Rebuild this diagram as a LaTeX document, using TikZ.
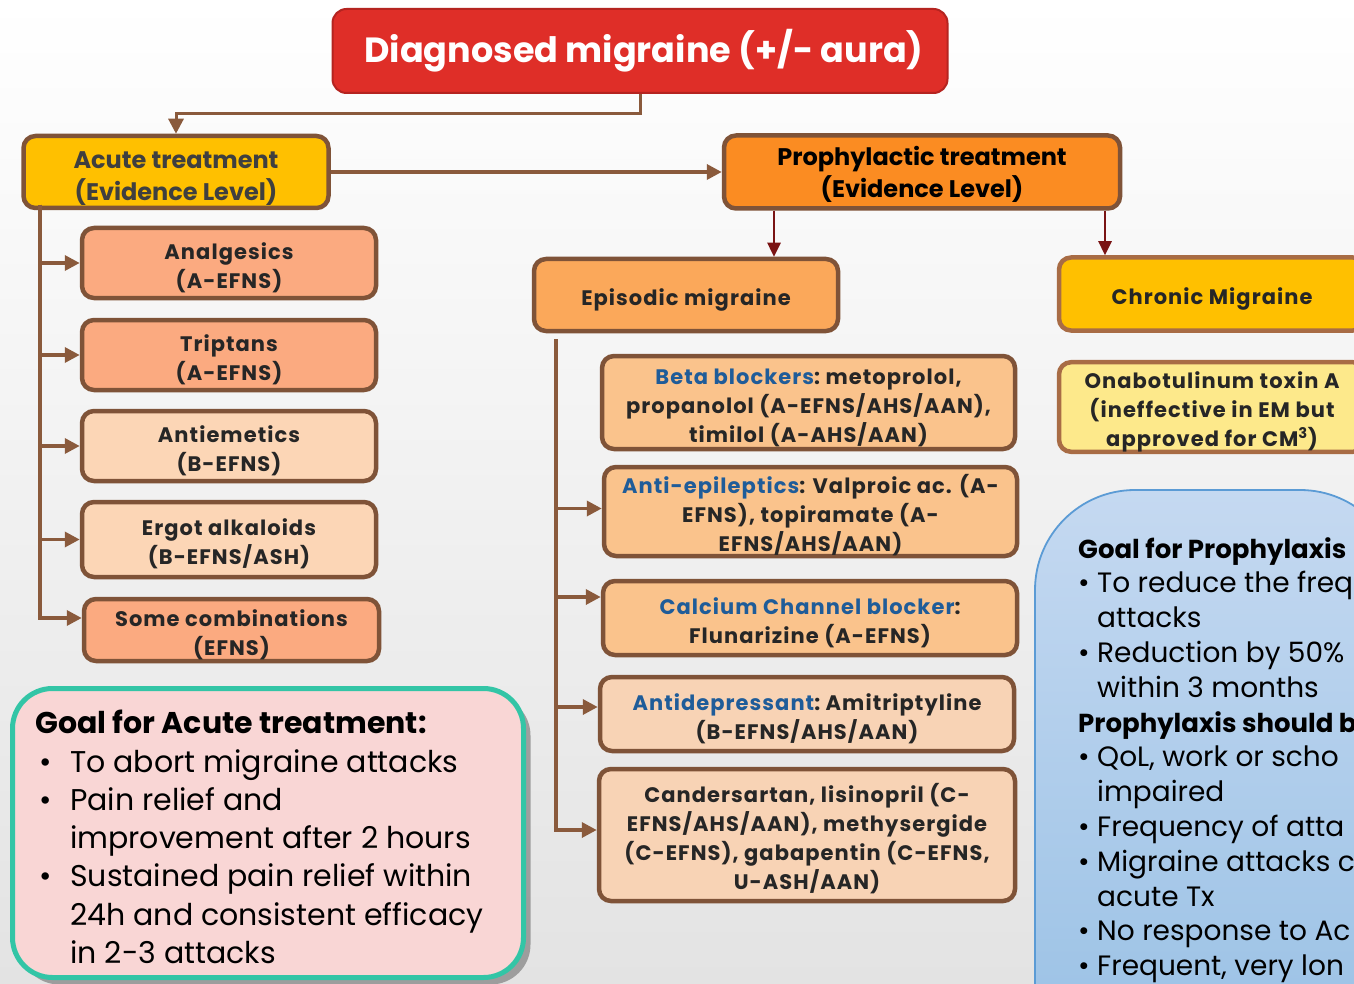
\documentclass[tikz,border=0pt]{standalone}
\usepackage{fontspec}
\setmainfont{Poppins}
\newfontfamily\boxfont[LetterSpace=5]{Poppins}
\usetikzlibrary{arrows.meta,shadows}
\newcommand\liftup[1][26pt]{\rule{0pt}{#1}}
\definecolor{brownB}{HTML}{7F5338}
\definecolor{brownL}{HTML}{A86C45}
\definecolor{brc}{HTML}{8A5A3C}
\definecolor{titleF}{HTML}{DF2E28}
\definecolor{titleB}{HTML}{B52420}
\definecolor{goldF}{HTML}{FFC000}
\definecolor{orangeP}{HTML}{FB8C22}
\definecolor{epiF}{HTML}{FBA85A}
\definecolor{salmonF}{HTML}{FBAA80}
\definecolor{peachF}{HTML}{FCD6B6}
\definecolor{lightorF}{HTML}{FAC38C}
\definecolor{antidepF}{HTML}{F8D3B5}
\definecolor{lightyelF}{HTML}{FDE98B}
\definecolor{darkredA}{HTML}{7A1414}
\definecolor{blueT}{HTML}{1F5C99}
\definecolor{pinkF}{HTML}{F9D6D5}
\definecolor{tealB}{HTML}{33C5A6}
\definecolor{blueTop}{HTML}{C5D9F1}
\definecolor{blueBot}{HTML}{9DC3E6}
\definecolor{blueLine}{HTML}{5B9BD5}
\definecolor{txtD}{HTML}{262626}
\definecolor{txtA}{HTML}{3F3F3F}
\definecolor{bgBot}{HTML}{E3E3E3}
\tikzset{
  box/.style={rectangle, rounded corners=12pt, line width=4.5pt, draw=brownB,
    align=center, inner sep=0pt, text=txtD,
    font=\boxfont\bfseries\fontsize{21}{29}\selectfont},
  titlebox/.style={rectangle, rounded corners=14pt, line width=2pt, draw=titleB,
    fill=titleF, text=white, inner sep=0pt,
    font=\bfseries\fontsize{35}{40}\selectfont},
  brarrow/.style={draw=brc, line width=3.5pt, -{Triangle[length=15pt,width=15pt]}},
  drarrow/.style={draw=darkredA, line width=2.5pt, -{Triangle[length=14pt,width=13pt]}},
  goalbox/.style={rectangle, rounded corners=40pt, line width=5pt, draw=tealB,
    fill=pinkF, drop shadow={shadow xshift=7pt, shadow yshift=-7pt, fill=black!45, opacity=0.8}},
}
\begin{document}
\begin{tikzpicture}[x=1pt,y=-1pt]
\useasboundingbox (0,0) rectangle (1354,984);
\shade[top color=white, bottom color=bgBot] (0,0) rectangle (1354,984);

% top level
\node[titlebox, minimum width=615pt, minimum height=84pt] (diag) at (640,51) {\hspace*{8pt}Diagnosed migraine (+/- aura)};
\node[box, fill=goldF, text=txtA, minimum width=305pt, minimum height=72pt,
  font=\bfseries\fontsize{24}{32}\selectfont] (acute) at (176,172) {\liftup[31pt]Acute treatment\\(Evidence Level)};
\node[box, fill=orangeP, text=black, minimum width=396pt, minimum height=73pt,
  font=\bfseries\fontsize{24}{32}\selectfont] (prophy) at (922,172) {\liftup[25pt]Prophylactic treatment\\(Evidence Level)};
\node[box, fill=epiF, minimum width=304pt, minimum height=72pt] (episodic) at (686,295) {\liftup Episodic migraine};
\node[box, fill=goldF, draw=brownL, minimum width=306pt, minimum height=73pt] (chronic) at (1212,294) {\liftup Chronic Migraine};
\node[box, fill=lightyelF, draw=brownL, minimum width=306pt, minimum height=86pt] (onabot) at (1212,407)
  {\liftup Onabotulinum toxin A\\(ineffective in EM but\\approved for CM\textsuperscript{3})};

% acute children
\node[box, fill=salmonF, minimum width=294pt, minimum height=70pt] (analg) at (229,263) {\liftup Analgesics\\(A-EFNS)};
\node[box, fill=salmonF, minimum width=294pt, minimum height=70pt] (tript) at (229,355) {\liftup Triptans\\(A-EFNS)};
\node[box, fill=peachF, minimum width=294pt, minimum height=70pt] (antiem) at (229,446) {\liftup Antiemetics\\(B-EFNS)};
\node[box, fill=peachF, minimum width=294pt, minimum height=75pt] (ergot) at (229,539.5) {\liftup Ergot alkaloids\\(B-EFNS/ASH)};
\node[box, fill=salmonF, minimum width=295pt, minimum height=62pt] (combo) at (231.5,630) {\liftup Some combinations\\(EFNS)};

% episodic children
\node[box, fill=lightorF, minimum width=413pt, minimum height=93pt] (beta) at (808.5,402.5)
  {\liftup\textcolor{blueT}{Beta blockers}:\ metoprolol,\\propanolol (A-EFNS/AHS/AAN),\\timilol (A-AHS/AAN)};
\node[box, fill=lightorF, minimum width=413pt, minimum height=89pt] (antiep) at (810.5,511.5)
  {\liftup\textcolor{blueT}{Anti-epileptics}: Valproic ac. (A-\\EFNS), topiramate (A-\\EFNS/AHS/AAN)};
\node[box, fill=lightorF, minimum width=414pt, minimum height=74pt] (calc) at (810,618)
  {\liftup\textcolor{blueT}{Calcium Channel blocker}:\\Flunarizine (A-EFNS)};
\node[box, fill=antidepF, minimum width=414pt, minimum height=74pt] (antidep) at (807,714)
  {\liftup\textcolor{blueT}{Antidepressant}:\ Amitriptyline\\(B-EFNS/AHS/AAN)};
\node[box, fill=antidepF, minimum width=416pt, minimum height=132pt] (cander) at (807,835)
  {\liftup Candersartan,\ lisinopril (C-\\EFNS/AHS/AAN), methysergide\\(C-EFNS), gabapentin (C-EFNS,\\U-ASH/AAN)};

% connectors
\draw[brarrow, line width=3pt] (diag.south) -- ++(0,20) -| (acute.north);
\draw[brarrow] (acute.east) -- (prophy.west);
\draw[drarrow] ([xshift=-148pt]prophy.south) -- ([xshift=88pt]episodic.north);
\draw[drarrow] ([xshift=183pt]prophy.south) -- ([xshift=-107pt]chronic.north);

\coordinate (av) at (40,205);
\draw[brarrow] (av) |- (analg.west);
\draw[brarrow] (av) |- (tript.west);
\draw[brarrow] (av) |- (antiem.west);
\draw[brarrow] (av) |- (ergot.west);
\draw[brarrow] (av) |- ([yshift=12pt]combo.west);

\coordinate (ev) at (556,339);
\draw[brarrow] (ev) |- ([yshift=3pt]antiep.west);
\draw[brarrow] (ev) |- ([yshift=21pt]calc.west);
\draw[brarrow] (ev) |- ([yshift=7pt]antidep.west);
\draw[brarrow] (ev) |- ([yshift=5pt]cander.west);

% goal for acute treatment
\node[goalbox, minimum width=511pt, minimum height=289pt] (goalA) at (268,833) {};
\node[anchor=north west, inner sep=0pt, align=left, text=black,
  font=\fontsize{30}{38.3}\selectfont] (goalAtxt) at (35,710)
  {{\bfseries\fontsize{30}{38.3}\selectfont Goal for Acute treatment:}\\
   \hspace*{4pt}\makebox[31pt][l]{•}To abort migraine attacks\\
   \hspace*{4pt}\makebox[31pt][l]{•}Pain relief and\\
   \hspace*{35pt}improvement after 2 hours\\
   \hspace*{4pt}\makebox[31pt][l]{•}Sustained pain relief within\\
   \hspace*{35pt}24h and consistent efficacy\\
   \hspace*{35pt}in 2-3 attacks};

% goal for prophylaxis (cut off at the right edge, as in the original)
\begin{scope}
\clip (0,0) rectangle (1354,984);
\shadedraw[top color=blueTop, bottom color=blueBot, draw=blueLine, line width=1.8pt]
  (1035,1010) [rounded corners=100pt] -- (1035,490) -- (1400,490) [sharp corners] -- (1400,1010) -- cycle;
\node[anchor=north west, inner sep=0pt, align=left, text=black,
  font=\fontsize{28}{34.8}\selectfont] (goalPtxt) at (1078,537)
  {{\bfseries\fontsize{26}{34.8}\selectfont Goal for Prophylaxis}\\
   \makebox[19pt][l]{•}To reduce the freq\\
   \hspace*{19pt}attacks\\
   \makebox[19pt][l]{•}Reduction by 50\%\\
   \hspace*{19pt}within 3 months\\
   {\bfseries\fontsize{26}{34.8}\selectfont Prophylaxis should b}\\
   \makebox[19pt][l]{•}QoL, work or scho\\
   \hspace*{19pt}impaired\\
   \makebox[19pt][l]{•}Frequency of atta\\
   \makebox[19pt][l]{•}Migraine attacks c\\
   \hspace*{19pt}acute Tx\\
   \makebox[19pt][l]{•}No response to Ac\\
   \makebox[19pt][l]{•}Frequent, very lon};
\end{scope}
\end{tikzpicture}
\end{document}
